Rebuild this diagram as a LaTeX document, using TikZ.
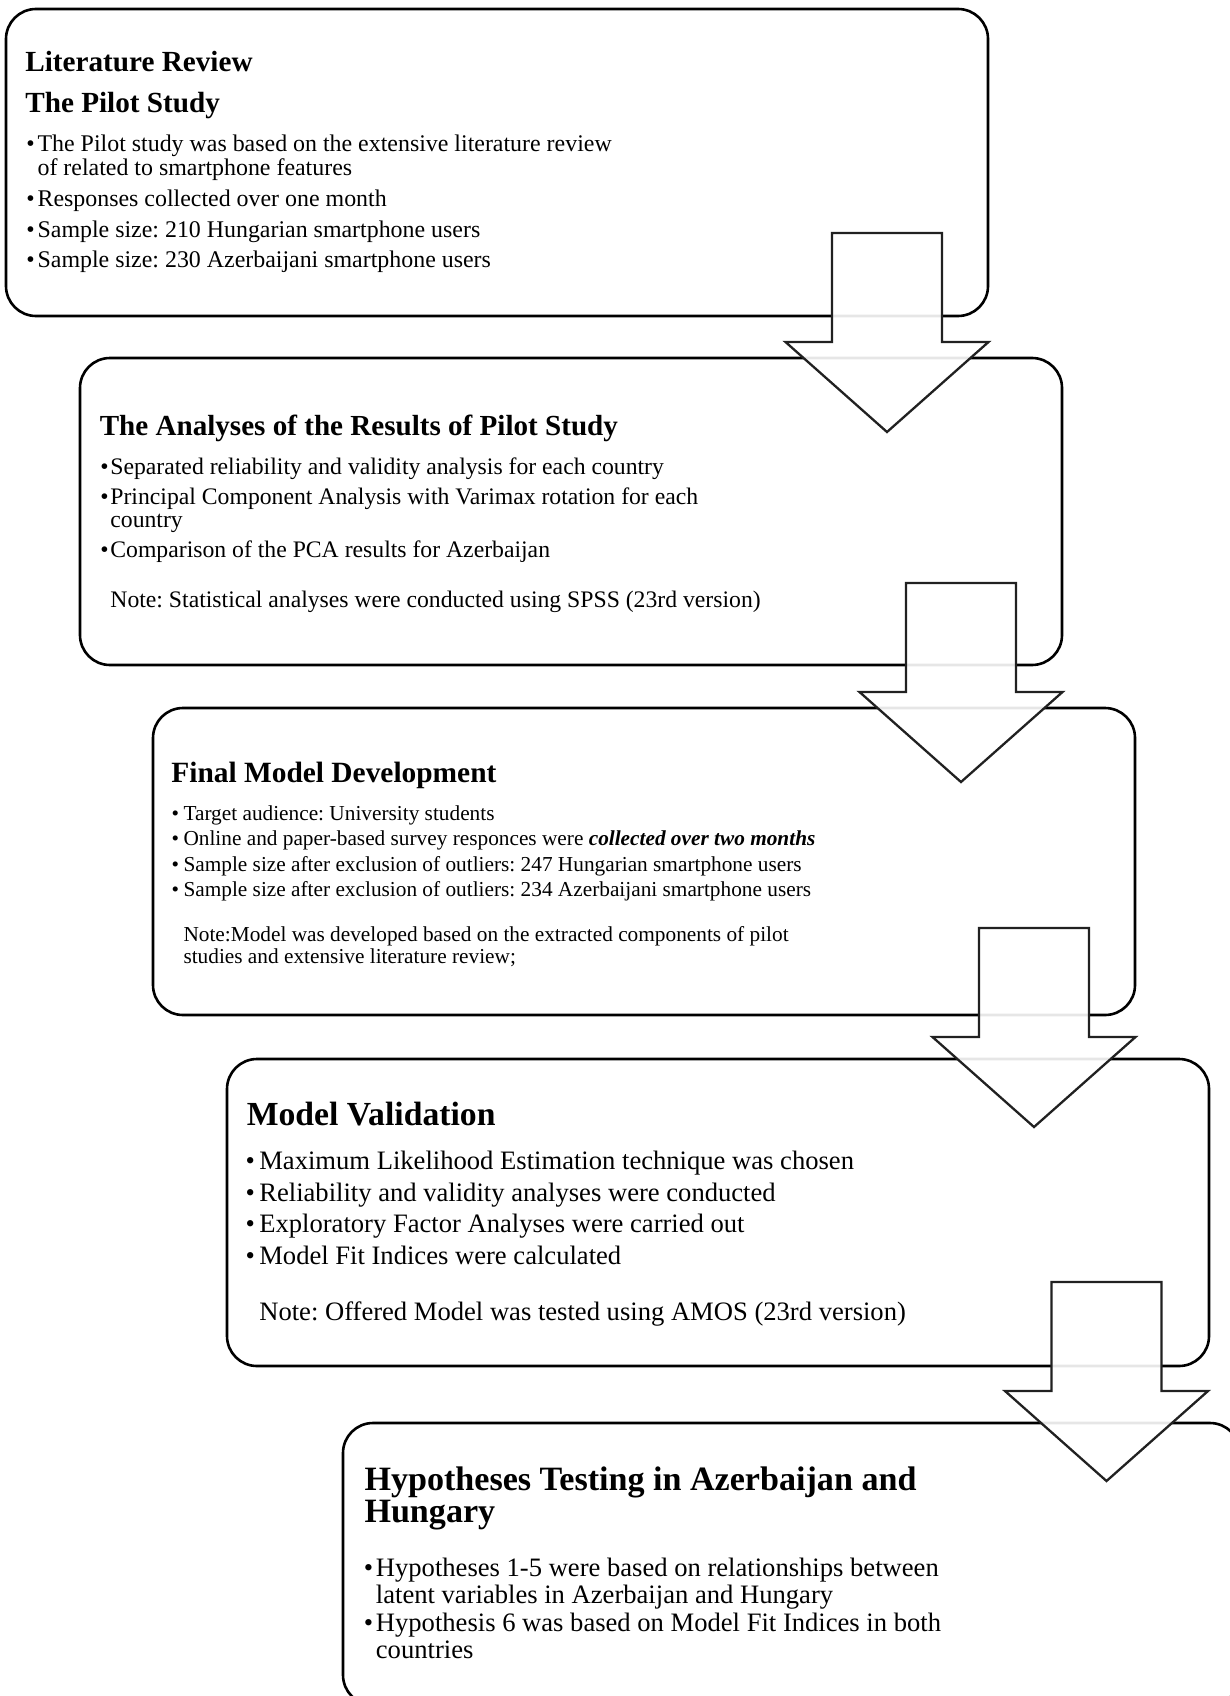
\documentclass[tikz,border=0pt]{standalone}
\usepackage{fontspec}
\setmainfont{Liberation Serif}
\begin{document}
\frenchspacing
\begin{tikzpicture}[x=1pt,y=-1pt,
  card/.style={draw=black, line width=2.6pt, rounded corners=30pt, fill=white,
    inner sep=0pt, outer sep=0pt, anchor=north west,
    minimum width=982pt, minimum height=307pt},
  blockarrow/.style={draw=black!87, line width=2.3pt, fill=white,
    fill opacity=0.9, line join=miter},
  txt/.style={anchor=base west, inner sep=0pt, outer sep=0pt},
  dot/.style={anchor=base, inner sep=0pt, outer sep=0pt},
  headA/.style={txt, font=\fontsize{29.2pt}{32pt}\selectfont\bfseries},
  bodyA/.style={txt, font=\fontsize{23.9pt}{26pt}\selectfont},
  dotA/.style={dot, font=\fontsize{23.9pt}{26pt}\selectfont},
  headB/.style={txt, font=\fontsize{29.1pt}{32pt}\selectfont\bfseries},
  bodyB/.style={txt, font=\fontsize{23.7pt}{26pt}\selectfont},
  dotB/.style={dot, font=\fontsize{23.7pt}{26pt}\selectfont},
  headC/.style={txt, font=\fontsize{29.4pt}{32pt}\selectfont\bfseries},
  bodyC/.style={txt, font=\fontsize{21.3pt}{24pt}\selectfont},
  dotC/.style={dot, font=\fontsize{21.3pt}{24pt}\selectfont},
  headD/.style={txt, font=\fontsize{33.7pt}{36pt}\selectfont\bfseries},
  bodyD/.style={txt, font=\fontsize{26.6pt}{29pt}\selectfont},
  dotD/.style={dot, font=\fontsize{26.6pt}{29pt}\selectfont},
  headE/.style={txt, font=\fontsize{34.1pt}{36pt}\selectfont\bfseries},
  bodyE/.style={txt, font=\fontsize{26.6pt}{29pt}\selectfont},
  dotE/.style={dot, font=\fontsize{26.6pt}{29pt}\selectfont},
]
\useasboundingbox (0,0) rectangle (1230,1696);
\clip (0,0) rectangle (1230,1696);

% ---- stage boxes ----
\node[card] (box1) at (6,9) {};
\node[card] (box2) at (80,358) {};
\node[card] (box3) at (153,708) {};
\node[card] (box4) at (227,1059) {};
\node[card, minimum width=897pt, minimum height=282pt] (box5) at (343,1423) {};

% ---- stage 1 ----
\node[headA] (h1a) at (25.3,71.7) {Literature Review};
\node[headA] (h1b) at (25.3,113) {The Pilot Study};
\node[dotA] (d1a) at (30.6,151.7) {•};
\node[bodyA] (t1a) at (37.6,151.7) {The Pilot study was based on the extensive literature review};
\node[bodyA] (t1b) at (37.6,175.7) {of related to smartphone features};
\node[dotA] (d1b) at (30.6,207) {•};
\node[bodyA] (t1c) at (37.6,207) {Responses collected over one month};
\node[dotA] (d1c) at (30.6,238) {•};
\node[bodyA] (t1d) at (37.6,238) {Sample size: 210 Hungarian smartphone users};
\node[dotA] (d1d) at (30.6,268) {•};
\node[bodyA] (t1e) at (37.6,268) {Sample size: 230 Azerbaijani smartphone users};

% ---- stage 2 ----
\node[headB] (h2) at (99.8,435) {The Analyses of the Results of Pilot Study};
\node[dotB] (d2a) at (104.4,474) {•};
\node[bodyB] (t2a) at (110.4,474) {Separated reliability and validity analysis for each country};
\node[dotB] (d2b) at (104.4,504) {•};
\node[bodyB] (t2b) at (110.4,504) {Principal Component Analysis with Varimax rotation for each};
\node[bodyB] (t2c) at (110.4,527) {country};
\node[dotB] (d2c) at (104.4,557) {•};
\node[bodyB] (t2d) at (110.4,557) {Comparison of the PCA results for Azerbaijan};
\node[bodyB] (t2e) at (110.4,607) {Note: Statistical analyses were conducted using SPSS (23rd version)};

% ---- stage 3 ----
\node[headC] (h3) at (171.4,782) {Final Model Development};
\node[dotC] (d3a) at (175.4,820) {•};
\node[bodyC] (t3a) at (183.5,820) {Target audience: University students};
\node[dotC] (d3b) at (175.4,845.5) {•};
\node[bodyC] (t3b) at (183.5,845.5) {Online and paper-based survey responces were \textbf{\textit{collected over two months}}};
\node[dotC] (d3c) at (175.4,871) {•};
\node[bodyC] (t3c) at (183.5,871) {Sample size after exclusion of outliers: 247 Hungarian smartphone users};
\node[dotC] (d3d) at (175.4,896.7) {•};
\node[bodyC] (t3d) at (183.5,896.7) {Sample size after exclusion of outliers: 234 Azerbaijani smartphone users};
\node[bodyC] (t3e) at (183.5,941.7) {Note:Model was developed based on the extracted components of pilot};
\node[bodyC] (t3f) at (183.5,963.3) {studies and extensive literature review;};

% ---- stage 4 ----
\node[headD] (h4) at (246.8,1125) {Model Validation};
\node[dotD] (d4a) at (250.4,1169) {•};
\node[bodyD] (t4a) at (259.3,1169) {Maximum Likelihood Estimation technique was chosen};
\node[dotD] (d4b) at (250.4,1201) {•};
\node[bodyD] (t4b) at (259.3,1201) {Reliability and validity analyses were conducted};
\node[dotD] (d4c) at (250.4,1232.7) {•};
\node[bodyD] (t4c) at (259.3,1232.7) {Exploratory Factor Analyses were carried out};
\node[dotD] (d4d) at (250.4,1264) {•};
\node[bodyD] (t4d) at (259.3,1264) {Model Fit Indices were calculated};
\node[bodyD] (t4e) at (259.3,1320.7) {Note: Offered Model was tested using AMOS (23rd version)};

% ---- stage 5 ----
\node[headE] (h5a) at (364.5,1490) {Hypotheses Testing in Azerbaijan and};
\node[headE] (h5b) at (364.5,1522) {Hungary};
\node[dotE] (d5a) at (368.6,1576.5) {•};
\node[bodyE] (t5a) at (375.9,1576.5) {Hypotheses 1-5 were based on relationships between};
\node[bodyE] (t5b) at (375.9,1603) {latent variables in Azerbaijan and Hungary};
\node[dotE] (d5b) at (368.6,1631.7) {•};
\node[bodyE] (t5c) at (375.9,1631.7) {Hypothesis 6 was based on Model Fit Indices in both};
\node[bodyE] (t5d) at (375.9,1658) {countries};

% ---- block arrows between stages (top-centre of each shaft) ----
\coordinate (a1) at (887,233);
\coordinate (a2) at (961,583);
\coordinate (a3) at (1034,928);
\coordinate (a4) at (1106.5,1282);
\foreach \a in {a1,a2,a3,a4}{
  \begin{scope}[shift={(\a)}]
    \draw[blockarrow] (-55,0) -- (55,0) -- (55,109) -- (101.5,109)
      -- (0,199) -- (-101.5,109) -- (-55,109) -- cycle;
  \end{scope}
}
\end{tikzpicture}
\end{document}
